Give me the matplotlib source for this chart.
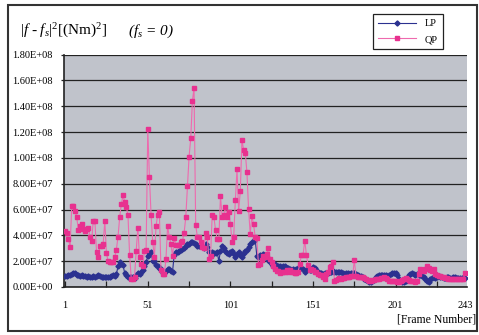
import numpy as np
import matplotlib
matplotlib.use("Agg")
import matplotlib.pyplot as plt
from matplotlib.ticker import FuncFormatter, FixedLocator
from matplotlib.patches import Rectangle

plt.rcParams['font.family'] = ['Liberation Serif', 'DejaVu Serif']
plt.rcParams['mathtext.fontset'] = 'custom'
plt.rcParams['mathtext.rm'] = 'Liberation Serif'
plt.rcParams['mathtext.it'] = 'Liberation Serif:italic'

SCALE = 1e7
lp_values = [
    0.85, 0.85, 0.9, 0.95, 1.0, 1.05, 1.05, 0.95, 0.9, 0.85,
    0.9, 0.85, 0.85, 0.8, 0.85, 0.8, 0.8, 0.85, 0.8, 0.85,
    0.9, 0.85, 0.75, 0.75, 0.8, 0.75, 0.8, 0.75, 0.85, 0.9,
    0.85, 1.0, 1.6, 1.9, 1.8, 1.7, 1.1, 0.9, 0.8, 0.75,
    0.8, 0.75, 0.7, 0.9, 1.1, 1.0, 1.15, 1.3, 1.6, 1.9,
    2.4, 2.6, 2.7, 2.0, 2.0, 1.7, 1.6, 1.5, 1.4, 1.1,
    1.1, 1.25, 1.4, 1.4, 1.25, 1.2, 2.5, 2.7, 2.7, 2.75,
    2.9, 2.95, 3.0, 3.2, 3.3, 3.35, 3.45, 3.45, 3.4, 3.3,
    3.2, 3.2, 3.3, 3.2, 3.0, 3.3, 3.1, 2.7, 2.4, 2.7,
    2.65, 2.6, 2.7, 2.0, 2.8, 3.2, 3.05, 2.8, 2.6, 2.55,
    2.7, 2.8, 2.55, 2.3, 2.55, 2.7, 2.45, 2.3, 2.6, 2.8,
    2.9, 3.1, 3.3, 3.45, 3.55, 3.7, 2.4, 2.35, 2.45, 2.4,
    2.55, 2.45, 2.3, 2.1, 1.95, 1.75, 1.65, 1.75, 1.65, 1.6,
    1.65, 1.5, 1.6, 1.65, 1.5, 1.45, 1.4, 1.25, 1.4, 1.35,
    1.4, 1.45, 1.5, 1.45, 1.4, 1.15, 1.3, 1.4, 1.35, 1.35,
    1.55, 1.45, 1.3, 1.15, 1.1, 1.05, 1.0, 1.05, 1.0, 1.1,
    1.15, 1.2, 1.25, 1.2, 1.15, 1.15, 1.2, 1.15, 1.05, 1.0,
    1.1, 1.1, 1.0, 1.05, 1.1, 1.1, 1.0, 0.95, 0.87, 0.85,
    0.75, 0.6, 0.55, 0.5, 0.4, 0.35, 0.45, 0.55, 0.8, 0.87,
    0.9, 0.95, 0.9, 0.9, 0.9, 0.87, 0.95, 1.0, 1.05, 1.1,
    1.1, 0.95, 0.65, 0.5, 0.4, 0.35, 0.5, 0.7, 0.9, 1.0,
    1.05, 1.0, 0.95, 1.0, 0.95, 0.9, 0.85, 0.8, 0.6, 0.5,
    0.35, 0.6, 0.7, 0.75, 0.7, 0.8, 0.87, 0.8, 0.75, 0.7,
    0.7, 0.75, 0.75, 0.7, 0.7, 0.75, 0.75, 0.7, 0.7, 0.7,
    0.7, 0.7, 0.7,
]
qp_values = [
    4.3, 4.2, 3.7, 3.1, 6.3, 6.3, 5.9, 5.4, 4.4, 4.7,
    4.85, 4.5, 4.3, 4.5, 4.6, 3.9, 3.55, 5.1, 5.1, 2.7,
    2.3, 3.15, 3.2, 3.35, 5.1, 2.6, 2.0, 1.9, 1.9, 1.95,
    2.3, 2.9, 3.9, 5.4, 6.4, 7.1, 6.6, 6.2, 5.6, 2.5,
    0.65, 0.6, 0.8, 2.8, 4.6, 2.3, 1.75, 1.6, 2.8, 2.9,
    12.2, 8.5, 5.6, 3.5, 2.3, 4.7, 5.6, 5.8, 1.35, 1.0,
    1.0, 2.15, 4.7, 3.9, 3.3, 2.4, 3.8, 3.25, 3.25, 3.25,
    3.45, 3.6, 4.2, 5.4, 7.8, 10.1, 11.5, 14.4, 15.4, 4.8,
    3.9, 3.9, 3.5, 3.1, 3.0, 4.2, 3.9, 2.15, 2.4, 5.6,
    5.45, 4.4, 3.7, 3.7, 7.05, 5.45, 5.6, 6.2, 5.4, 5.8,
    4.9, 3.5, 3.9, 6.7, 9.1, 5.9, 7.4, 11.4, 10.6, 10.4,
    8.9, 6.05, 4.1, 5.5, 4.85, 3.9, 3.8, 1.7, 1.75, 2.1,
    2.4, 2.35, 2.55, 3.05, 2.15, 1.9, 1.65, 1.4, 1.25, 1.25,
    1.1, 1.2, 1.2, 1.2, 1.3, 1.2, 1.3, 1.2, 1.15, 1.1,
    1.1, 1.2, 1.75, 2.5, 2.5, 3.6, 2.5, 1.7, 1.35, 1.4,
    1.3, 1.15, 1.15, 1.0, 0.95, 0.9, 0.8, 0.65, 1.0, 1.15,
    1.55, 1.6, 1.9, 0.5, 0.55, 0.65, 0.7, 0.65, 0.7, 0.7,
    0.75, 0.75, 0.8, 0.85, 0.85, 2.1, 0.85, 0.8, 0.8, 0.75,
    0.75, 0.7, 0.6, 0.55, 0.47, 0.5, 0.55, 0.55, 0.6, 0.6,
    0.65, 0.7, 0.7, 0.75, 0.7, 0.6, 0.5, 0.45, 0.45, 0.5,
    0.45, 0.4, 0.4, 0.5, 0.55, 0.65, 0.7, 0.6, 0.55, 0.5,
    0.45, 0.45, 0.4, 0.5, 1.0, 1.4, 1.3, 1.25, 1.4, 1.6,
    1.45, 1.3, 1.25, 1.4, 1.0, 0.9, 0.85, 0.85, 0.8, 0.75,
    0.7, 0.7, 0.65, 0.65, 0.6, 0.6, 0.6, 0.6, 0.6, 0.6,
    0.6, 0.65, 1.05,
]
series_names = ["LP", "QP"]
x_tick_labels = [1, 51, 101, 151, 201, 243]
x_tick_marks = list(range(1, 244, 25))
y_ticks = [0, 2e7, 4e7, 6e7, 8e7, 1.0e8, 1.2e8, 1.4e8, 1.6e8, 1.8e8]

lp = np.array(lp_values) * SCALE
qp = np.array(qp_values) * SCALE
frames_lp = np.arange(1, len(lp) + 1)
frames_qp = np.arange(1, len(qp) + 1)

fig = plt.figure(figsize=(4.79, 3.35), dpi=100)
fig.patch.set_facecolor('white')
fig.patches.append(Rectangle((8 / 479, 1 - 331 / 335), 469 / 479, 326 / 335,
                             transform=fig.transFigure, fill=False,
                             edgecolor='#333333', linewidth=1.5, zorder=0))

ax = fig.add_axes([64 / 479, 1 - 287 / 335, 403 / 479, 232.5 / 335])
ax.set_facecolor('#C0C3CB')

lp_color = '#2B3190'
qp_line = '#EE6AAE'
qp_mark = '#E8318F'
ax.plot(frames_lp, lp, color=lp_color, lw=0.8, marker='D', ms=2.6,
        mec=lp_color, mfc=lp_color, label=series_names[0], zorder=3)
ax.plot(frames_qp, qp, color=qp_line, lw=0.8, marker='s', ms=3.0,
        mec=qp_mark, mfc=qp_mark, label=series_names[1], zorder=4)

ax.set_xlim(0.3, 244.2)
ax.set_ylim(0, 1.8e8)
ax.yaxis.set_major_locator(FixedLocator(y_ticks))
ax.yaxis.set_major_formatter(FuncFormatter(lambda v, p: '%.2E' % v))
ax.grid(axis='y', color='#222222', lw=0.9, zorder=1)
ax.set_axisbelow(True)

ax.xaxis.remove_overlapping_locs = False
ax.set_xticks(x_tick_marks)
ax.set_xticklabels([])
ax.tick_params(axis='x', which='major', direction='in', length=4, width=0.9,
               color='#222222', labelbottom=False)
ax.set_xticks(x_tick_labels, minor=True)
ax.set_xticklabels([str(v) for v in x_tick_labels], minor=True)
ax.tick_params(axis='x', which='minor', length=0, pad=10, labelsize=7.5)
ax.tick_params(axis='y', direction='out', length=2, width=0.9, color='#222222',
               pad=6, labelsize=7.5)

for side in ['top', 'right']:
    ax.spines[side].set_visible(False)
ax.spines['left'].set_color('#222222')
ax.spines['bottom'].set_color('#222222')
ax.spines['left'].set_linewidth(1.2)
ax.spines['bottom'].set_linewidth(1.2)

fig.text(20 / 479, 1 - 31 / 335, r'$|f$ - $f_s|^2$[(Nm)$^2$]',
         fontsize=11, va='center', ha='left')
fig.text(128 / 479, 1 - 31 / 335, r'($f_s$ = 0)', fontsize=11,
         style='italic', va='center', ha='left')
fig.text(476 / 479, 1 - 320 / 335, '[Frame Number]', fontsize=8.5,
         ha='right', va='center')

leg = ax.legend(loc='upper left', bbox_to_anchor=(373 / 479, 1 - 14 / 335),
                bbox_transform=fig.transFigure, frameon=True, fancybox=False,
                edgecolor='#222222', facecolor='white', framealpha=1,
                fontsize=7.5, handlelength=3.6, borderpad=0.5,
                labelspacing=0.6, handletextpad=0.9, borderaxespad=0)
leg.get_frame().set_linewidth(0.9)

fig.savefig('out.png', dpi=100)
